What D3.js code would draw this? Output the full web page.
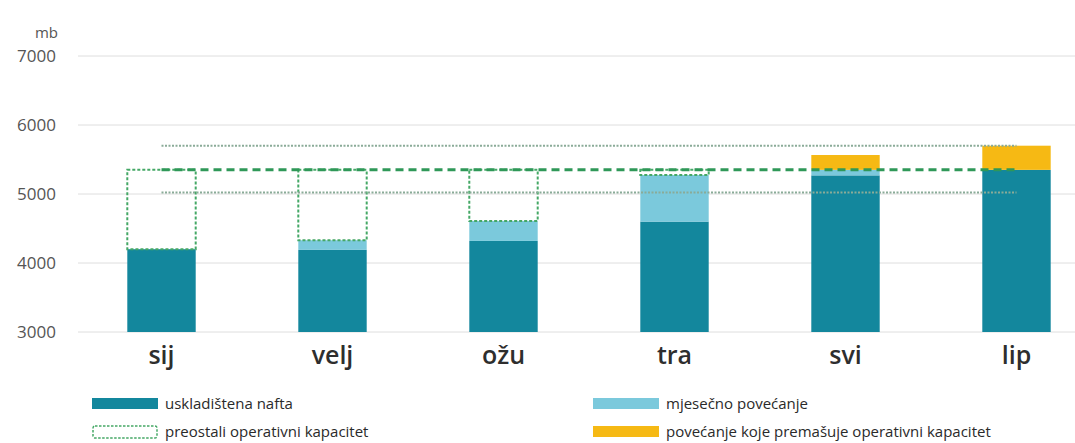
<!DOCTYPE html>
<meta charset="utf-8">
<style>
body { margin: 0; background: #fff; }
svg { font-family: "Open Sans", sans-serif; }
.grid line { stroke: #dedede; stroke-width: 1; }
.tick-label { font-size: 17px; fill: #555; }
.unit { font-size: 15px; fill: #555; }
.month { font-size: 25px; font-weight: 600; fill: #2e2e2e; }
.legend text { font-size: 15px; fill: #2a2a2a; }
</style>
<body>
<svg width="1075" height="443"></svg>
<script src="https://cdn.jsdelivr.net/npm/d3@7"></script>
<script>
// months (Croatian abbreviations)
var months = ["sij", "velj", "ožu", "tra", "svi", "lip"];
// stored oil, mb
var stored = [4200, 4190, 4320, 4600, 5270, 5350];
// monthly increase up to operating capacity
var monthly = [0, 140, 290, 675, 80, 0];
// increase beyond operating capacity
var excess = [0, 0, 0, 0, 215, 350];
var capacity = 5350;
var capLow = 5020, capHigh = 5700;
var yTicks = [3000, 4000, 5000, 6000, 7000];
var legendLabels = ["uskladištena nafta", "preostali operativni kapacitet",
                    "mjesečno povećanje", "povećanje koje premašuje operativni kapacitet"];

var colors = { stored: "#13879d", monthly: "#7bc9dc", excess: "#f6b914" };

var svg = d3.select("svg");

var x = d3.scaleBand().domain(months).range([76, 1102]).paddingInner(0.6).paddingOuter(0.3);
var y = d3.scaleLinear().domain([3000, 7000]).range([332, 56]).clamp(true);

var data = months.map(function(m, i) {
  return { month: m, stored: stored[i], monthly: monthly[i], excess: excess[i] };
});

// gridlines
svg.append("g").attr("class", "grid")
  .selectAll("line").data(yTicks).enter().append("line")
    .attr("x1", 78).attr("x2", 1075)
    .attr("y1", function(d) { return y(d); })
    .attr("y2", function(d) { return y(d); });

svg.append("g").selectAll("text").data(yTicks).enter().append("text")
    .attr("class", "tick-label")
    .attr("x", 56).attr("y", function(d) { return y(d); })
    .attr("dy", "0.35em").attr("text-anchor", "end")
    .text(function(d) { return d; });

svg.append("text").attr("class", "unit")
  .attr("x", 58).attr("y", 33).attr("dy", "0.35em").attr("text-anchor", "end")
  .text("mb");

// stacked bars
var stack = d3.stack().keys(["stored", "monthly", "excess"]);
var series = stack(data);

svg.append("g").selectAll("g").data(series).enter().append("g")
    .attr("fill", function(s) { return colors[s.key]; })
  .selectAll("rect").data(function(s) { return s; }).enter().append("rect")
    .attr("x", function(d) { return x(d.data.month); })
    .attr("width", x.bandwidth())
    .attr("y", function(d) { return y(d[1]); })
    .attr("height", function(d) { return y(d[0]) - y(d[1]); });

// remaining operating capacity boxes
var boxes = data.filter(function(d) { return d.stored + d.monthly < capacity; });
svg.append("g").selectAll("rect").data(boxes).enter().append("rect")
    .attr("x", function(d) { return x(d.month); })
    .attr("width", x.bandwidth())
    .attr("y", y(capacity))
    .attr("height", function(d) { return y(d.stored + d.monthly) - y(capacity); })
    .attr("fill", "none")
    .attr("stroke", "#45a866")
    .attr("stroke-width", 2)
    .attr("stroke-dasharray", "3,2");

// capacity range lines
var xStart = x(months[0]) + x.bandwidth() / 2,
    xEnd = x(months[months.length - 1]) + x.bandwidth() / 2;

svg.append("g").selectAll("line").data([capLow, capHigh]).enter().append("line")
    .attr("x1", xStart).attr("x2", xEnd)
    .attr("y1", function(d) { return y(d); })
    .attr("y2", function(d) { return y(d); })
    .attr("stroke", "#8aab98")
    .attr("stroke-width", 2)
    .attr("stroke-dasharray", "2,1.5");

svg.append("line")
    .attr("x1", xStart).attr("x2", xEnd)
    .attr("y1", y(capacity)).attr("y2", y(capacity))
    .attr("stroke", "#2f9858")
    .attr("stroke-width", 3)
    .attr("stroke-dasharray", "8,5");

// month labels
svg.append("g").selectAll("text").data(months).enter().append("text")
    .attr("class", "month")
    .attr("x", function(d) { return x(d) + x.bandwidth() / 2; })
    .attr("y", 364)
    .attr("text-anchor", "middle")
    .text(function(d) { return d; });

// legend
var legend = svg.append("g").attr("class", "legend");
var legendItems = [
  { x: 92, y: 398, label: legendLabels[0], fill: colors.stored },
  { x: 92, y: 426, label: legendLabels[1], fill: "none", dotted: true },
  { x: 593, y: 398, label: legendLabels[2], fill: colors.monthly },
  { x: 593, y: 426, label: legendLabels[3], fill: colors.excess }
];
legendItems.forEach(function(it) {
  var r = legend.append("rect")
    .attr("x", it.x).attr("y", it.y)
    .attr("width", 66).attr("height", 11)
    .attr("fill", it.fill);
  if (it.dotted) {
    r.attr("x", it.x + 1).attr("width", 64).attr("height", 12)
     .attr("stroke", "#45a866").attr("stroke-width", 1.5).attr("stroke-dasharray", "2.5,1.5")
     .attr("rx", 2);
  }
  legend.append("text")
    .attr("x", it.x + 73).attr("y", it.y + 6)
    .attr("dy", "0.35em")
    .text(it.label);
});
</script>
</body>
